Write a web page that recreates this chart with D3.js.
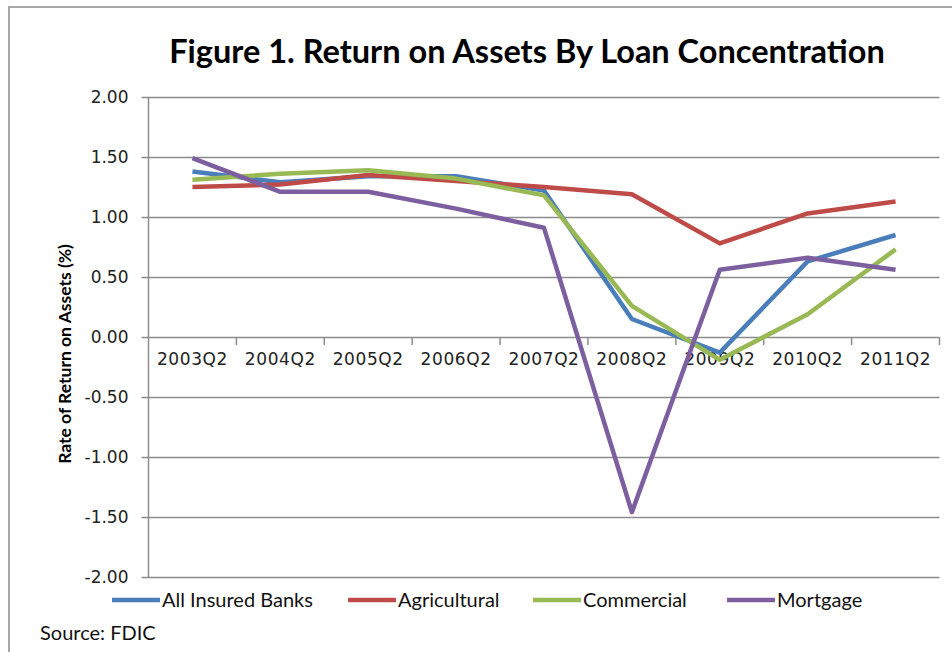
<!DOCTYPE html>
<html>
<head>
<meta charset="utf-8">
<script src="https://cdn.jsdelivr.net/npm/d3@7"></script>
<style>
  html, body { margin: 0; padding: 0; background: #fff; }
  svg { display: block; }
</style>
</head>
<body>
<svg id="chart" width="952" height="652"></svg>
<script>
// Return on assets (%) by bank loan concentration, mid-year quarters
const quarters = ["2003Q2", "2004Q2", "2005Q2", "2006Q2", "2007Q2", "2008Q2", "2009Q2", "2010Q2", "2011Q2"];
const allInsured   = [1.38, 1.29, 1.34, 1.34, 1.22, 0.15, -0.13, 0.63, 0.85];
const agricultural = [1.25, 1.27, 1.35, 1.30, 1.25, 1.19, 0.78, 1.03, 1.13];
const commercial   = [1.31, 1.36, 1.39, 1.32, 1.18, 0.26, -0.19, 0.19, 0.73];
const mortgage     = [1.49, 1.21, 1.21, 1.07, 0.91, -1.46, 0.56, 0.66, 0.56];
const seriesNames  = ["All Insured Banks", "Agricultural", "Commercial", "Mortgage"];
const yTicks       = [2.0, 1.5, 1.0, 0.5, 0.0, -0.5, -1.0, -1.5, -2.0];

const seriesValues = [allInsured, agricultural, commercial, mortgage];
const colors = ["#4a7ebb", "#be4b48", "#98b954", "#7d5fa0"];

const svg = d3.select("#chart");
const labelFont = "Lato, 'Open Sans', sans-serif";
const axisFont = "'DejaVu Sans', Verdana, sans-serif";
// Two decimals with a plain hyphen for negatives
const fmt = d => d3.format(".2f")(d).replace("\u2212", "-");

// Outer chart frame
svg.append("rect")
  .attr("x", 9).attr("y", 7)
  .attr("width", 960).attr("height", 660)
  .attr("fill", "none").attr("stroke", "#8c8c8c").attr("stroke-width", 1.5);

const plot = { left: 148.5, right: 939.5, top: 97, bottom: 577 };

const x = d3.scaleBand().domain(quarters).range([plot.left, plot.right]).padding(0);
const y = d3.scaleLinear().domain([-2, 2]).range([plot.bottom, plot.top]);

// Title
svg.append("text")
  .attr("x", 527).attr("y", 63)
  .attr("text-anchor", "middle")
  .style("font-family", labelFont)
  .style("font-weight", "bold")
  .style("font-size", "32.5px")
  .attr("fill", "#000")
  .text("Figure 1. Return on Assets By Loan Concentration");

// Horizontal gridlines with left tick stubs
const yAxis = d3.axisLeft(y).tickValues(yTicks)
  .tickSize(-(plot.right - plot.left))
  .tickFormat(fmt);
const gy = svg.append("g")
  .attr("transform", `translate(${plot.left},0)`)
  .call(yAxis);
gy.select(".domain").remove();
gy.selectAll(".tick line")
  .attr("x1", -7)
  .attr("stroke", "#8c8c8c").attr("stroke-width", 1.5);
gy.selectAll(".tick text")
  .attr("x", -20)
  .attr("dy", "0.35em")
  .attr("fill", "#222")
  .style("font-family", axisFont)
  .style("font-size", "17px");

// Vertical axis line
svg.append("line")
  .attr("x1", plot.left).attr("x2", plot.left)
  .attr("y1", plot.top).attr("y2", plot.bottom)
  .attr("stroke", "#8c8c8c").attr("stroke-width", 1.5);

// Category axis drawn at zero, ticks between categories
const boundaries = quarters.map(q => x(q)).concat([plot.right]);
const zeroY = y(0);
svg.append("g").selectAll("line")
  .data(boundaries.slice(1))
  .join("line")
  .attr("x1", d => d).attr("x2", d => d)
  .attr("y1", zeroY).attr("y2", zeroY + 8)
  .attr("stroke", "#8c8c8c").attr("stroke-width", 1.5);

svg.append("g").selectAll("text")
  .data(quarters)
  .join("text")
  .attr("x", d => x(d) + x.bandwidth() / 2)
  .attr("y", zeroY + 28)
  .attr("text-anchor", "middle")
  .attr("fill", "#222")
  .style("font-family", axisFont)
  .style("font-size", "17px")
  .style("letter-spacing", "0.6px")
  .text(d => d);

// Y axis title
svg.append("text")
  .attr("transform", `translate(71,${(plot.top + plot.bottom) / 2 + 17}) rotate(-90)`)
  .attr("text-anchor", "middle")
  .style("font-family", labelFont)
  .style("font-weight", "bold")
  .style("font-size", "17.5px")
  .attr("fill", "#000")
  .text("Rate of Return on Assets (%)");

// Series lines
const line = d3.line()
  .x((d, i) => x(quarters[i]) + x.bandwidth() / 2)
  .y(d => y(d));

svg.append("g").selectAll("path")
  .data(seriesValues)
  .join("path")
  .attr("d", d => line(d))
  .attr("fill", "none")
  .attr("stroke", (d, i) => colors[i])
  .attr("stroke-width", 4.5)
  .attr("stroke-linejoin", "round")
  .attr("stroke-linecap", "butt");

// Legend
const legendX = [112, 348, 533, 727];
const legend = svg.append("g").selectAll("g")
  .data(seriesNames)
  .join("g")
  .attr("transform", (d, i) => `translate(${legendX[i]},600)`);
legend.append("line")
  .attr("x1", 0).attr("x2", 48)
  .attr("stroke", (d, i) => colors[i])
  .attr("stroke-width", 4.5);
legend.append("text")
  .attr("x", 50).attr("dy", "0.35em")
  .attr("fill", "#111")
  .style("font-family", labelFont)
  .style("font-size", "20px")
  .text(d => d);

// Source note
svg.append("text")
  .attr("x", 40).attr("y", 640)
  .attr("fill", "#111")
  .style("font-family", labelFont)
  .style("font-size", "20px")
  .text("Source: FDIC");
</script>
</body>
</html>
